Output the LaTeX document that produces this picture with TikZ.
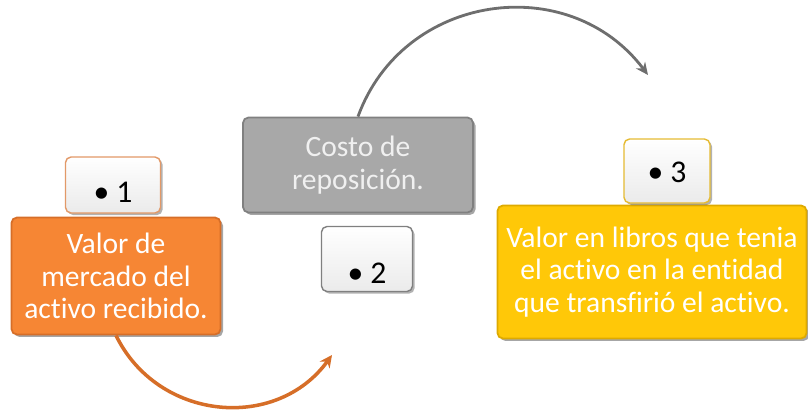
\documentclass[tikz,border=0pt]{standalone}
\usepackage{fontspec}
\setmainfont{Carlito}[Ligatures=NoCommon]
\usepackage{tikz}
\usetikzlibrary{arrows.meta,shadows}
\definecolor{Naranja}   {RGB}{246,134, 52}
\definecolor{NaranjaOsc}{RGB}{214,110, 40}
\definecolor{Gris}      {RGB}{168,168,168}
\definecolor{GrisOsc}   {RGB}{128,128,128}
\definecolor{Amarillo}  {RGB}{255,200,  8}
\definecolor{AmarilloOsc}{RGB}{222,170,  0}
\definecolor{Flecha}    {RGB}{110,110,110}
\tikzset{
  caja/.style={
    rectangle, rounded corners=1.6pt,
    line width=0.5pt, text=white, align=center,
    font=\fontsize{8.4}{9.2}\selectfont,
    inner sep=0pt,
    drop shadow={shadow xshift=0.7pt, shadow yshift=-0.7pt,
                 opacity=0.35, fill=black}
  },
  cajanaranja/.style ={caja, fill=Naranja, draw=NaranjaOsc},
  cajagris/.style    ={caja, fill=Gris, draw=GrisOsc, text=white!94!black},
  cajaamarilla/.style={caja, fill=Amarillo, draw=AmarilloOsc},
  vineta/.style={
    rectangle, rounded corners=1.6pt,
    top color=white, bottom color=black!8,
    line width=0.4pt, text=black, text depth=0pt, text height=#1,
    font=\fontsize{9}{10}\selectfont, inner sep=0pt,
    drop shadow={shadow xshift=0.6pt, shadow yshift=-0.6pt,
                 opacity=0.3, fill=black}
  },
  flechagris/.style={-{Stealth[length=3.5pt,width=3.2pt]},
                     line width=0.8pt, color=Flecha},
  flechanaranja/.style={-{Stealth[length=3.5pt,width=3.4pt]},
                        line width=1pt, color=NaranjaOsc}
}

\begin{document}
\begin{tikzpicture}[x=0.01cm,y=0.01cm]
  \useasboundingbox (0,0) rectangle (808,412);

  \node[cajanaranja, minimum width=2.09cm, minimum height=1.17cm]
        (mercado) at (116,136) {Valor de\\mercado del\\activo recibido.};
  \node[cajagris, minimum width=2.30cm, minimum height=0.95cm]
        (costo) at (358,247) {Costo de\\reposición.};
  \node[cajaamarilla, minimum width=3.09cm, minimum height=1.33cm]
        (libros) at (652,140) {Valor en libros que tenia\\el activo en la entidad\\que transfirió el activo.};

  \node[vineta=9.7pt, draw=NaranjaOsc!70, minimum width=0.95cm, minimum height=0.56cm]
        (uno) at (113,227) {\textbullet\ 1};
  \node[vineta=14.2pt, draw=GrisOsc, minimum width=0.91cm, minimum height=0.65cm]
        (dos) at (367,153) {\textbullet\ 2};
  \node[vineta=6.3pt, draw=AmarilloOsc!80, minimum width=0.86cm, minimum height=0.64cm]
        (tres) at (667,241) {\textbullet\ 3};

  \coordinate (finnaranja) at (332,57);
  \coordinate (fingris)    at (648,337);

  \draw[flechanaranja] (mercado.south) to[out=-64,in=-126,looseness=1.12] (finnaranja);
  \draw[flechagris] (costo.north) to[out=70,in=127,looseness=1.15] (fingris);
\end{tikzpicture}
\end{document}
